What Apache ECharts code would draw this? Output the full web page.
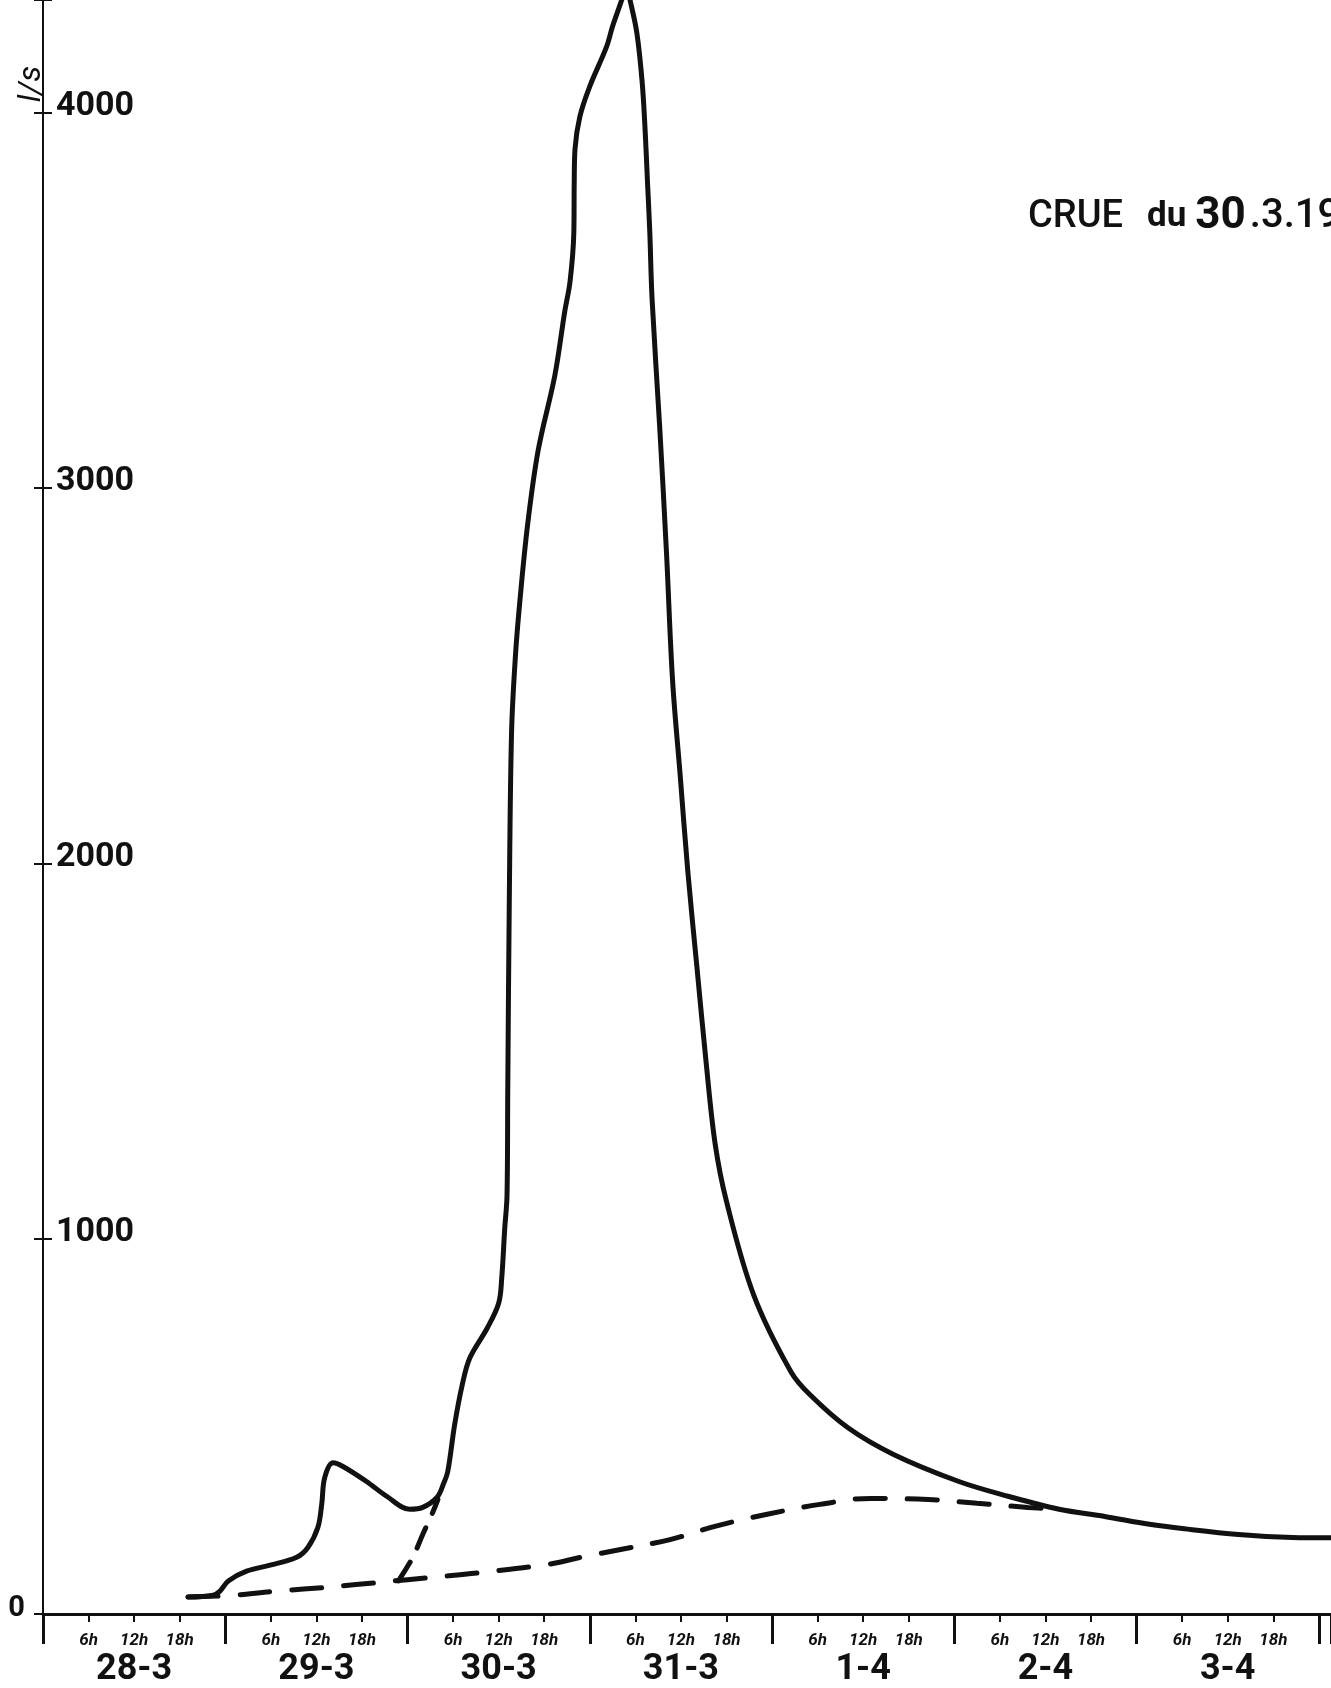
<!DOCTYPE html>
<html>
<head>
<meta charset="utf-8">
<script src="https://cdn.jsdelivr.net/npm/echarts@6/dist/echarts.min.js"></script>
<style>
  html, body { margin: 0; padding: 0; background: #fff; }
  #chart { width: 1331px; height: 1688px; }
</style>
</head>
<body>
<div id="chart"></div>
<script>
// Flood hydrograph, 28 March to 3 April. Time is in hours counted from 28-3 at 0h,
// discharge is in litres per second.

// Total discharge (solid line)
const hours = [19.1, 22.4, 23.3, 24.4, 26.8, 29.9, 33.4, 34.9, 36.2, 36.7,
  37.1, 38.2, 39.5, 42.6, 45.3, 48.3, 50.0, 51.9, 52.7, 53.3,
  54.2, 55.2, 56.2, 58.5, 60.0, 60.4, 60.8, 61.1, 61.2, 61.4,
  61.7, 62.2, 62.8, 63.8, 65.2, 67.4, 68.7, 69.4, 69.9, 69.95,
  70.05, 70.7, 72.0, 74.2, 75.0, 76.2, 76.8, 77.3, 78.2, 78.9,
  79.3, 79.6, 79.9, 80.2, 81.2, 82.1, 82.9, 83.9, 84.9, 86.1,
  87.3, 88.5, 90.0, 93.6, 98.5, 101.0, 106.0, 112.0, 120.6, 127.2,
  133.8, 139.8, 145.7, 150.3, 157.4, 164.5, 169.6];
const discharge = [45, 50, 61, 88, 114, 130, 151, 178, 231, 292,
  364, 403, 393, 353, 313, 279, 284, 311, 345, 380,
  504, 610, 682, 762, 828, 894, 1027, 1115, 1400, 1900,
  2350, 2550, 2700, 2900, 3100, 3300, 3470, 3550, 3682, 3814,
  3902, 3990, 4070, 4175, 4230, 4300, 4340, 4300, 4212, 4080,
  3947, 3814, 3682, 3504, 3164, 2827, 2487, 2235, 1980, 1725,
  1473, 1253, 1099, 849, 645, 584, 496, 425, 353, 313,
  279, 260, 239, 227, 212, 204, 203];

// Base flow separation (dashed line)
const baseHours = [19.1, 25.0, 30.8, 37.8, 44.6, 51.4, 57.9, 66.7, 70.8, 76.9,
  82.7, 88.6, 95.2, 102.3, 109.0, 116.6, 123.0, 129.7, 133.8];
const baseFlow = [45, 50, 61, 72, 85, 98, 111, 133, 151, 175,
  199, 234, 265, 292, 308, 305, 295, 284, 279];

// Recession of the first small rise (short dashed branch)
const sepHours = [46.8, 48.7, 50.0, 51.2, 52.0];
const sepFlow = [88, 151, 212, 265, 305];

const dayLabels = ['28-3', '29-3', '30-3', '31-3', '1-4', '2-4', '3-4'];
const hourLabels = { 6: '6h', 12: '12h', 18: '18h' };
const unitLabel = 'l/s';
const titleParts = ['CRUE', 'du', '30', '.3.1962'];

const FONT = "Roboto, 'DejaVu Sans', sans-serif";
const INK = '#111';
const zip = (xs, ys) => xs.map((x, i) => [x, ys[i]]);

const chart = echarts.init(document.getElementById('chart'), null, { renderer: 'canvas' });

const lineBase = {
  type: 'line',
  showSymbol: false,
  symbol: 'none',
  smooth: 0.35,
  clip: true,
  silent: true
};

const option = {
  animation: false,
  backgroundColor: '#fff',
  grid: { left: 43, right: 0, top: 0, bottom: 68, containLabel: false },
  xAxis: [
    {
      type: 'value', min: 0, max: 169.6, interval: 6,
      axisLine: { show: true, onZero: false, lineStyle: { color: INK, width: 3 } },
      axisTick: { show: true, length: 8, lineStyle: { color: INK, width: 2 } },
      splitLine: { show: false },
      axisLabel: {
        margin: 18,
        color: INK,
        showMinLabel: true,
        showMaxLabel: false,
        formatter: function (v) {
          const h = Math.round(v) % 24;
          const d = Math.floor(Math.round(v) / 24);
          if (h === 12) return '{h|' + hourLabels[12] + '}\n{d|' + dayLabels[d] + '}';
          if (hourLabels[h]) return '{h|' + hourLabels[h] + '}';
          return '';
        },
        rich: {
          h: { fontFamily: FONT, fontSize: 17, fontStyle: 'italic', fontWeight: 'bold',
               color: INK, lineHeight: 18, align: 'center' },
          d: { fontFamily: FONT, fontSize: 36, fontWeight: 'bold', color: INK,
               lineHeight: 40, align: 'center' }
        }
      }
    },
    {
      type: 'value', min: 0, max: 169.6, interval: 24, position: 'bottom',
      axisLine: { show: false },
      axisTick: { show: true, length: 30, lineStyle: { color: INK, width: 3 } },
      axisLabel: { show: false },
      splitLine: { show: false }
    }
  ],
  yAxis: [
    {
      type: 'value', min: 0, max: 4300, interval: 1000,
      axisLine: { show: true, onZero: false, lineStyle: { color: INK, width: 2 } },
      axisTick: { show: true, inside: true, length: 9, lineStyle: { color: INK, width: 2 } },
      splitLine: { show: false },
      axisLabel: {
        inside: true, margin: 13,
        color: INK, fontFamily: FONT, fontSize: 34, fontWeight: 'bold',
        verticalAlign: 'bottom', lineHeight: 12,
        formatter: v => (v > 0 && v % 1000 === 0 ? String(v) : '')
      }
    },
    {
      type: 'value', min: 0, max: 4300, interval: 1000, position: 'left',
      axisLine: { show: false },
      axisTick: { show: true, length: 9, lineStyle: { color: INK, width: 2 } },
      splitLine: { show: false },
      axisLabel: {
        margin: 18,
        color: INK, fontFamily: FONT, fontSize: 29, fontWeight: 'bold',
        verticalAlign: 'bottom', lineHeight: 10,
        formatter: v => (v === 0 ? '0' : '')
      }
    }
  ],
  graphic: [
    {
      type: 'text', left: 1028, top: 195, silent: true,
      style: {
        text: '{a|' + titleParts[0] + '}{b|' + titleParts[1] + '}{c|' + titleParts[2] + '}{e|' + titleParts[3] + '}',
        rich: {
          a: { fontFamily: FONT, fontSize: 38, fontWeight: 500, fill: INK },
          b: { fontFamily: FONT, fontSize: 35, fontWeight: 'bold', fill: INK, padding: [0, 0, 0, 24] },
          c: { fontFamily: FONT, fontSize: 44, fontWeight: 'bold', fill: INK, padding: [0, 0, 0, 9] },
          e: { fontFamily: FONT, fontSize: 40, fontWeight: 500, fill: INK, padding: [0, 0, 0, 4] }
        }
      }
    },
    {
      type: 'text', x: 48, y: 84, rotation: Math.PI / 2, silent: true,
      style: {
        text: unitLabel, fontFamily: FONT, fontSize: 32, fontStyle: 'italic',
        fill: INK, align: 'center', verticalAlign: 'bottom'
      }
    }
  ],
  series: [
    Object.assign({}, lineBase, {
      name: 'Débit total',
      data: zip(hours, discharge),
      lineStyle: { color: INK, width: 5, cap: 'round', join: 'round' }
    }),
    Object.assign({}, lineBase, {
      name: 'Débit de base',
      data: zip(baseHours, baseFlow),
      smooth: 0.4,
      lineStyle: { color: INK, width: 5, type: [30, 22], cap: 'round' }
    }),
    Object.assign({}, lineBase, {
      name: 'Décrue de la première pointe',
      data: zip(sepHours, sepFlow),
      smooth: 0.3,
      lineStyle: { color: INK, width: 5, type: [22, 16], cap: 'round' }
    })
  ]
};

chart.setOption(option);
</script>
</body>
</html>
